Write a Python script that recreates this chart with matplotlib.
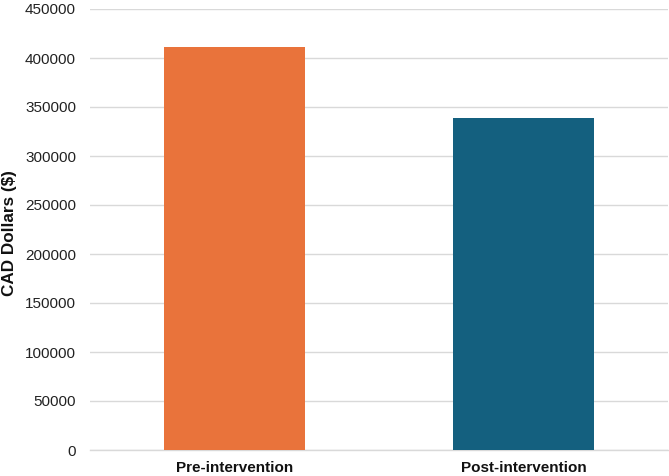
import matplotlib
matplotlib.use("Agg")
import matplotlib.pyplot as plt

categories = ["Pre-intervention", "Post-intervention"]
values = [411500, 339000]
colors = ["#E9733B", "#14607F"]
yticks = [0, 50000, 100000, 150000, 200000, 250000, 300000, 350000, 400000, 450000]

plt.rcParams['font.family'] = ['Liberation Sans', 'DejaVu Sans']

fig = plt.figure(figsize=(6.69, 4.76), dpi=100)
ax = fig.add_axes([90/669, 26/476, (668-90)/669, (450-9)/476])

x = list(range(len(categories)))
ax.bar(x, values, width=0.485, color=colors, zorder=3)
ax.set_xlim(-0.5, 1.5)
ax.set_ylim(0, 450000)
ax.set_yticks(yticks)
ax.set_yticklabels([str(v) for v in yticks], fontsize=11, color="#222222")
ax.set_xticks(x)
ax.set_xticklabels(categories, fontsize=11, fontweight="bold", color="#111111")
ax.tick_params(axis="both", length=0)
ax.tick_params(axis="y", pad=10)
ax.tick_params(axis="x", pad=8)
ax.grid(axis="y", color="#d9d9d9", linewidth=1, zorder=0)
for s in ["top", "right", "left"]:
    ax.spines[s].set_visible(False)
ax.spines["bottom"].set_color("#d9d9d9")
ax.spines["bottom"].set_linewidth(1)
ax.set_ylabel("CAD Dollars ($)", fontsize=12.3, fontweight="bold", color="#111111")
ax.yaxis.set_label_coords(-0.126, 0.492)

fig.savefig("out.png", dpi=100)
